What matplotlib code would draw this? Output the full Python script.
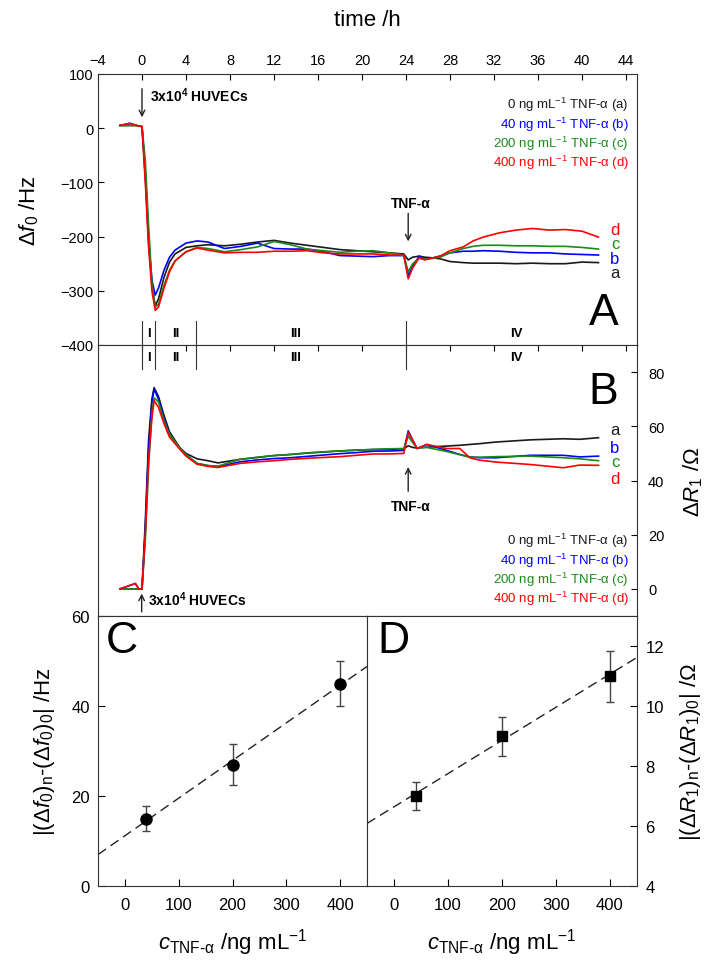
import numpy as np
import matplotlib.pyplot as plt

plt.rcParams['font.family'] = ['Liberation Sans', 'DejaVu Sans']
plt.rcParams['mathtext.fontset'] = 'custom'
plt.rcParams['mathtext.rm'] = 'Liberation Sans'
plt.rcParams['mathtext.it'] = 'Liberation Sans:italic'
plt.rcParams['mathtext.bf'] = 'Liberation Sans:bold'

# ---- panel A: frequency shift vs time ----
t_a = [-2, -1.1, -0.5, 0, 0.3, 0.6, 0.9, 1.2, 1.5, 2.0, 2.5, 3.0, 4.0, 5.0, 6.0, 7.5,
       9.0, 10.5, 12.0, 13.5, 15.0, 16.5, 18.0, 19.5, 21.0, 22.5, 23.8, 24.2, 24.6,
       25.2, 25.7, 26.3, 27.1, 28.0, 29.2, 30.1, 31.0, 32.5, 34.0, 35.5, 37.0, 38.5,
       40.0, 41.5]
df_a = [5, 5, 5, 3, -80, -200, -290, -328, -315, -275, -247, -232, -220, -217, -215, -217,
        -214, -210, -207, -212, -216, -220, -224, -226, -228, -230, -232, -243, -238,
        -236, -238, -239, -241, -246, -248, -249, -249, -249, -250, -249, -250, -250,
        -247, -248]
df_b = [5, 9, 5, 3, -90, -210, -280, -308, -295, -262, -238, -225, -212, -208, -210, -222,
        -218, -212, -222, -223, -223, -228, -235, -236, -237, -235, -235, -272, -255,
        -236, -242, -240, -236, -230, -227, -227, -226, -227, -229, -230, -230, -232,
        -233, -234]
df_c = [5, 5, 5, 3, -60, -180, -285, -330, -325, -290, -262, -245, -228, -220, -222, -228,
        -224, -219, -209, -215, -223, -226, -229, -227, -226, -230, -234, -265, -250,
        -240, -242, -240, -238, -230, -222, -218, -216, -216, -217, -217, -218, -218,
        -220, -223]
df_d = [5, 9, 5, 3, -100, -220, -300, -336, -330, -295, -265, -245, -228, -221, -225, -230,
        -229, -229, -227, -227, -226, -230, -232, -232, -232, -234, -234, -278, -258,
        -239, -243, -240, -236, -226, -219, -208, -201, -193, -188, -185, -188, -187,
        -190, -201]

# ---- panel B: resistance vs time ----
t_b = [-2, -0.6, -0.3, 0, 0.3, 0.6, 0.9, 1.1, 1.5, 2.0, 2.5, 3.45, 4.0, 5.0, 6.0, 6.9,
       8.9, 10.5, 12.0, 13.5, 15.0, 16.5, 18.0, 19.5, 21.0, 22.5, 23.8, 24.2, 24.6, 25.0,
       25.9, 27.7, 28.9, 29.8, 30.7, 32.2, 35.3, 38.3, 39.8, 41.5]
dr_a = [0, 0, 0, 0, 25, 55, 70, 74.3, 71, 64, 58, 52, 50, 48, 47.3, 46.5,
        47.8, 48.5, 49.2, 49.6, 50.1, 50.5, 50.9, 51.2, 51.4, 51.5, 51.7, 52.8, 52.2, 52.0,
        52.3, 52.7, 53.0, 53.3, 53.6, 54.2, 55.0, 55.4, 55.2, 55.8]
dr_b = [0, 2, 0, 0, 22, 52, 69, 73.7, 70, 63, 57, 52, 49.5, 46.3, 45.5, 45.1,
        46.9, 47.6, 48.1, 48.4, 48.9, 49.4, 49.9, 50.3, 50.8, 50.9, 51.1, 58.3, 55.0, 51.8,
        53.3, 51.1, 49.6, 48.7, 48.4, 48.4, 49.3, 49.3, 48.7, 49.0]
dr_c = [0, 0, 0, 0, 18, 45, 65, 70.5, 69, 62, 57, 52, 49.5, 46.3, 45.5, 45.3,
        47.8, 48.6, 49.2, 49.6, 50.2, 50.6, 50.9, 51.2, 51.5, 51.7, 51.8, 56.4, 54.0, 52.0,
        52.2, 50.7, 49.5, 48.6, 48.6, 48.8, 49.0, 48.4, 48.0, 47.3]
dr_d = [0, 2, 0, 0, 20, 48, 63, 69.5, 67, 61, 56, 51.5, 49, 46, 45.2, 44.8,
        46.3, 46.9, 47.3, 47.8, 48.2, 48.5, 48.8, 49.3, 49.8, 49.8, 50.0, 57.7, 55.0, 51.8,
        53.3, 51.8, 51.8, 48.4, 47.5, 46.8, 45.9, 44.7, 45.7, 45.6]

series_names = ['a', 'b', 'c', 'd']
series_colors = ['#1a1a1a', '#0000ff', '#1a8a1a', '#ff0000']
conc_labels = ['0', '40', '200', '400']

# ---- panels C and D ----
conc = [40, 200, 400]
c_vals = [15, 27, 45]
c_err = [2.8, 4.5, 5.0]
d_vals = [7.0, 9.0, 11.0]
d_err = [0.47, 0.65, 0.85]

# phases
phase_bounds = [0, 1.2, 4.9, 24]
phase_names = ['I', 'II', 'III', 'IV']
phase_pos = [0.6, 3.1, 14, 34]

W, H = 712, 962
fig = plt.figure(figsize=(W / 100, H / 100), dpi=100)


def px_axes(l, t, r, b):
    return fig.add_axes([l / W, 1 - b / H, (r - l) / W, (b - t) / H])


tick_kw = dict(direction='in', length=4, width=0.8, labelsize=10.5)

axA = px_axes(98, 75, 637, 346)
axB = px_axes(98, 346, 637, 617)
axC = px_axes(98, 617, 367, 887)
axD = px_axes(367, 617, 637, 887)

for ax in (axA, axB, axC, axD):
    for s in ax.spines.values():
        s.set_linewidth(0.8)
        s.set_color('#333333')

# panel A
for y, col in zip([df_a, df_b, df_c, df_d], series_colors):
    axA.plot(t_a, y, color=col, lw=1.2)
axA.set_xlim(-4, 45)
axA.set_ylim(-400, 100)
axA.set_xticks(np.arange(-4, 45, 4))
axA.set_yticks(np.arange(-400, 101, 100))
axA.xaxis.tick_top()
axA.xaxis.set_label_position('top')
axA.tick_params(axis='both', **tick_kw)
axA.tick_params(axis='x', pad=5)
axA.set_xlabel('time /h', fontsize=16, labelpad=20)
axA.set_ylabel(r'$\Delta f_0$ /Hz', fontsize=16, labelpad=14)

axA.annotate('', xy=(0, 15), xytext=(0, 78),
             arrowprops=dict(arrowstyle='->', color='#222222', lw=1))
axA.text(0.7, 62, r'3x10$^\mathbf{4}$ HUVECs', fontsize=10, fontweight='bold', va='center')
axA.annotate('', xy=(24.2, -214), xytext=(24.2, -152),
             arrowprops=dict(arrowstyle='->', color='#222222', lw=1))
axA.text(24.4, -138, 'TNF-α', fontsize=10, fontweight='bold', ha='center', va='center')

for i, (name, col, c) in enumerate(zip(series_names, series_colors, conc_labels)):
    axA.text(0.985, 0.888 - i * 0.071, c + r' ng mL$^{-1}$ TNF-α (' + name + ')',
             transform=axA.transAxes, color=col, fontsize=9.5, ha='right', va='center')
for name, col, yy in zip(series_names, series_colors, [-266, -240, -212, -187]):
    axA.text(43.0, yy, name, color=col, fontsize=12, ha='center', va='center')
axA.text(0.965, 0.12, 'A', transform=axA.transAxes, fontsize=32, ha='right', va='center')

# panel B
for y, col in zip([dr_a, dr_b, dr_c, dr_d], series_colors):
    axB.plot(t_b, y, color=col, lw=1.2)
axB.set_xlim(-4, 45)
axB.set_ylim(-10, 90)
axB.set_xticks(np.arange(-4, 45, 4))
axB.set_yticks(np.arange(0, 81, 20))
axB.xaxis.tick_top()
axB.yaxis.tick_right()
axB.yaxis.set_label_position('right')
axB.tick_params(axis='both', **tick_kw)
axB.tick_params(axis='x', labeltop=False)
axB.tick_params(axis='y', pad=8)
axB.set_ylabel(r'$\Delta R_1$ /Ω', fontsize=16, labelpad=12)

axB.annotate('', xy=(-0.03, -0.7), xytext=(-0.03, -9.5),
             arrowprops=dict(arrowstyle='->', color='#222222', lw=1))
axB.text(0.55, -3.8, r'3x10$^\mathbf{4}$ HUVECs', fontsize=10, fontweight='bold', va='center')
axB.annotate('', xy=(24.2, 46), xytext=(24.2, 35),
             arrowprops=dict(arrowstyle='->', color='#222222', lw=1))
axB.text(24.4, 30.5, 'TNF-α', fontsize=10, fontweight='bold', ha='center', va='center')

for i, (name, col, c) in enumerate(zip(series_names, series_colors, conc_labels)):
    axB.text(0.985, 0.279 - i * 0.071, c + r' ng mL$^{-1}$ TNF-α (' + name + ')',
             transform=axB.transAxes, color=col, fontsize=9.5, ha='right', va='center')
for name, col, yy in zip(series_names, series_colors, [58.8, 52.3, 47.0, 40.8]):
    axB.text(43.0, yy, name, color=col, fontsize=12, ha='center', va='center')
axB.text(0.965, 0.83, 'B', transform=axB.transAxes, fontsize=32, ha='right', va='center')

# phase markers across A/B boundary
for tb in phase_bounds:
    axA.plot([tb, tb], [-400, -355], color='#333333', lw=0.8, clip_on=False)
    axB.plot([tb, tb], [90, 81], color='#333333', lw=0.8, clip_on=False)
for nm, tp in zip(phase_names, phase_pos):
    axA.text(tp, -378, nm, fontsize=9.5, fontweight='bold', ha='center', va='center')
    axB.text(tp, 85.5, nm, fontsize=9.5, fontweight='bold', ha='center', va='center')

# panel C
xfit = np.array([-50, 450])
pc = np.polyfit(conc, c_vals, 1)
axC.plot(xfit, np.polyval(pc, xfit), color='#222222', lw=1, dashes=(7, 4))
axC.errorbar(conc, c_vals, yerr=c_err, fmt='o', color='black', ms=8,
             ecolor='#444444', elinewidth=1, capsize=3, capthick=1)
axC.set_xlim(-50, 450)
axC.set_ylim(0, 60)
axC.set_xticks([0, 100, 200, 300, 400])
axC.set_yticks([0, 20, 40, 60])
axC.tick_params(axis='both', direction='in', length=5, width=0.8, labelsize=12, pad=8)
axC.tick_params(axis='y', pad=6)
axC.set_xlabel(r'$c_\mathrm{TNF\text{-}α}$ /ng mL$^{-1}$', fontsize=16, labelpad=10)
axC.set_ylabel(r'$|(\Delta f_0)_\mathrm{n}$-$(\Delta f_0)_0|$ /Hz', fontsize=16, labelpad=10)
axC.text(0.03, 0.91, 'C', transform=axC.transAxes, fontsize=32, ha='left', va='center')

# panel D
pd_ = np.polyfit(conc, d_vals, 1)
axD.plot(xfit, np.polyval(pd_, xfit), color='#222222', lw=1, dashes=(7, 4))
axD.errorbar(conc, d_vals, yerr=d_err, fmt='s', color='black', ms=7,
             ecolor='#444444', elinewidth=1, capsize=3, capthick=1)
axD.set_xlim(-50, 450)
axD.set_ylim(4, 13)
axD.set_xticks([0, 100, 200, 300, 400])
axD.set_yticks([4, 6, 8, 10, 12])
axD.yaxis.tick_right()
axD.yaxis.set_label_position('right')
axD.tick_params(axis='both', direction='in', length=5, width=0.8, labelsize=12, pad=8)
axD.tick_params(axis='y', pad=6)
axD.set_xlabel(r'$c_\mathrm{TNF\text{-}α}$ /ng mL$^{-1}$', fontsize=16, labelpad=10)
axD.set_ylabel(r'$|(\Delta R_1)_\mathrm{n}$-$(\Delta R_1)_0|$ /Ω', fontsize=16, labelpad=10)
axD.text(0.04, 0.91, 'D', transform=axD.transAxes, fontsize=32, ha='left', va='center')

fig.savefig('out.png', dpi=100)
